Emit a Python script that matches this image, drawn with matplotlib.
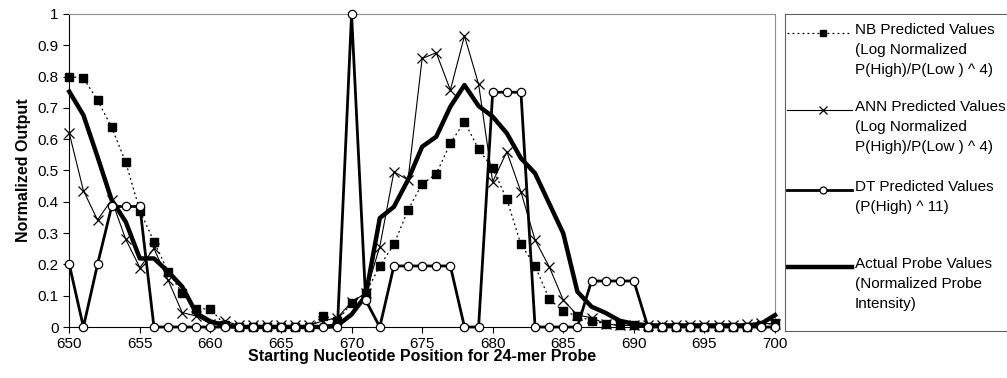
import numpy as np
import matplotlib
matplotlib.use("Agg")
import matplotlib.pyplot as plt
from matplotlib.lines import Line2D

plt.rcParams['font.family'] = ['Liberation Sans', 'DejaVu Sans']

positions = list(range(650, 701))

nb_values = [0.80, 0.795, 0.725, 0.638, 0.526, 0.372, 0.273, 0.177, 0.108, 0.058,
             0.058, 0.007, 0.0, 0.0, 0.0, 0.0, 0.0, 0.0, 0.035, 0.02,
             0.076, 0.108, 0.195, 0.264, 0.374, 0.457, 0.489, 0.587, 0.656, 0.568,
             0.507, 0.408, 0.264, 0.195, 0.09, 0.05, 0.035, 0.02, 0.01, 0.005,
             0.005, 0.0, 0.0, 0.0, 0.0, 0.0, 0.0, 0.0, 0.0, 0.005, 0.013]

ann_values = [0.619, 0.436, 0.342, 0.406, 0.28, 0.19, 0.251, 0.15, 0.046, 0.035,
              0.01, 0.02, 0.005, 0.005, 0.005, 0.005, 0.005, 0.005, 0.02, 0.03,
              0.08, 0.108, 0.257, 0.496, 0.47, 0.858, 0.876, 0.757, 0.93, 0.776,
              0.464, 0.56, 0.432, 0.278, 0.193, 0.086, 0.038, 0.03, 0.01, 0.005,
              0.005, 0.005, 0.005, 0.005, 0.005, 0.005, 0.005, 0.005, 0.01, 0.012, 0.01]

dt_values = [0.2, 0.0, 0.2, 0.385, 0.385, 0.385, 0.0, 0.0, 0.0, 0.0,
             0.0, 0.0, 0.0, 0.0, 0.0, 0.0, 0.0, 0.0, 0.0, 0.0,
             1.0, 0.086, 0.0, 0.195, 0.195, 0.195, 0.195, 0.195, 0.0, 0.0,
             0.75, 0.75, 0.75, 0.0, 0.0, 0.0, 0.0, 0.147, 0.147, 0.147,
             0.147, 0.0, 0.0, 0.0, 0.0, 0.0, 0.0, 0.0, 0.0, 0.0, 0.0]

actual_values = [0.752, 0.677, 0.544, 0.406, 0.336, 0.219, 0.219, 0.177, 0.129, 0.044,
                 0.018, 0.005, 0.0, 0.0, 0.0, 0.0, 0.0, 0.0, 0.0, 0.005,
                 0.04, 0.1, 0.348, 0.384, 0.47, 0.576, 0.608, 0.704, 0.773, 0.706,
                 0.672, 0.619, 0.539, 0.491, 0.395, 0.299, 0.113, 0.065, 0.045, 0.02,
                 0.01, 0.005, 0.005, 0.005, 0.005, 0.005, 0.005, 0.005, 0.005, 0.01, 0.038]

legend_labels = [
    "NB Predicted Values\n(Log Normalized\nP(High)/P(Low ) ^ 4)",
    "ANN Predicted Values\n(Log Normalized\nP(High)/P(Low ) ^ 4)",
    "DT Predicted Values\n(P(High) ^ 11)",
    "Actual Probe Values\n(Normalized Probe\nIntensity)",
]

fig = plt.figure(figsize=(10.07, 3.78), dpi=100)
ax = fig.add_axes([0.0688, 0.1349, 0.7008, 0.8281])

styles = [
    dict(color='black', lw=0.9, ls=(0, (1.5, 2.5)), marker='s', ms=5.5, mfc='black', mec='black', zorder=3),
    dict(color='black', lw=0.8, ls='-', marker='x', ms=7, mew=0.9, zorder=3),
    dict(color='black', lw=2.0, ls='-', marker='o', ms=6, mfc='white', mec='black', mew=0.9, zorder=5),
    dict(color='black', lw=3.2, ls='-', zorder=4),
]
series = [nb_values, ann_values, dt_values, actual_values]

for vals, st in zip(series, styles):
    ax.plot(positions, vals, clip_on=False, **st)

ax.set_xlim(650, 700)
ax.set_ylim(0, 1)
ax.set_xticks(range(650, 701, 5))
ax.set_yticks(np.arange(0, 1.01, 0.1))
ax.set_yticklabels(['0', '0.1', '0.2', '0.3', '0.4', '0.5', '0.6', '0.7', '0.8', '0.9', '1'])
ax.tick_params(direction='out', length=4, labelsize=11, width=0.8)
ax.tick_params(axis='x', pad=3)
for s in ['top', 'right']:
    ax.spines[s].set_color('#909090')
for s in ['left', 'bottom']:
    ax.spines[s].set_color('black')
ax.set_xlabel('Starting Nucleotide Position for 24-mer Probe', fontsize=11.5, fontweight='bold', labelpad=-1)
ax.set_ylabel('Normalized Output', fontsize=11.5, fontweight='bold', labelpad=5)

# legend box, drawn by hand so that samples line up with the first text line
lax = fig.add_axes([785 / 1007, 1 - 331 / 378, 0.25, (331 - 14) / 378])
lax.set_xlim(0, 1)
lax.set_ylim(331, 14)
lax.set_xticks([])
lax.set_yticks([])
for s in lax.spines.values():
    s.set_color('#606060')
lax.spines['right'].set_visible(False)

px = 1 / 253.0
line_y = [33, 110, 190, 267]
for y, lab, st in zip(line_y, legend_labels, styles):
    st2 = dict(st)
    st2.pop('zorder', None)
    lax.add_line(Line2D([2 * px, 67 * px], [y, y], **{k: v for k, v in st2.items() if k not in ('marker', 'ms')}))
    if 'marker' in st:
        lax.add_line(Line2D([38 * px], [y], marker=st['marker'], ms=st['ms'] - 1,
                            mfc=st.get('mfc', 'black'), mec=st.get('mec', 'black'),
                            mew=st.get('mew', 1), ls='none'))
    lax.text(70 * px, y - 10, lab, fontsize=11, va='top', ha='left', linespacing=1.55)

fig.savefig('out.png', dpi=100)
